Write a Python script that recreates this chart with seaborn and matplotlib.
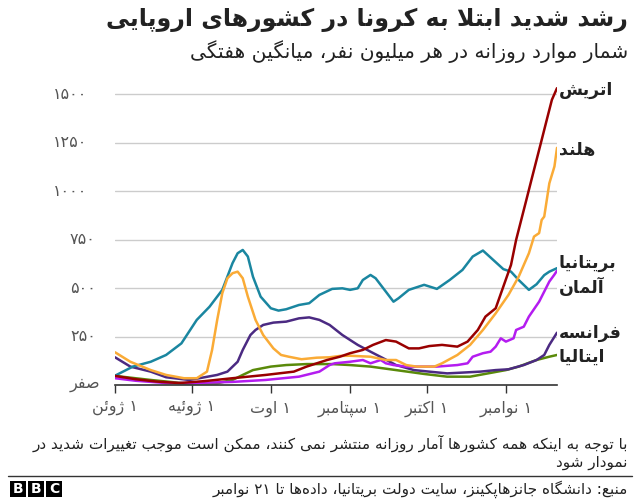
import re
import numpy as np
import pandas as pd
import matplotlib
matplotlib.use("Agg")
import matplotlib.pyplot as plt
from matplotlib.patches import Rectangle
from matplotlib.lines import Line2D
import matplotlib.transforms as mtrans
import seaborn as sns

# ------------------------------------------------------------------ data
start_date = "2020-06-01"
end_date = "2020-11-21"

austria_days = [0, 8, 16, 25, 35, 46, 59, 70, 75, 83, 88, 92, 97, 101, 106, 110, 115, 119, 123, 128,
                134, 138, 142, 145, 149, 152, 155, 157, 159, 161, 163, 165, 167, 169, 171, 173]
austria_vals = [47, 30, 18, 10, 20, 35, 52, 69, 95, 129, 146, 164, 181, 207, 232, 224, 189, 189, 201, 207,
                198, 224, 284, 353, 396, 508, 620, 749, 852, 955, 1059, 1162, 1265, 1369, 1472, 1532]

nl_days = [0, 6, 14, 20, 27, 32, 36, 38, 40, 42, 44, 46, 48, 50, 52, 55, 58, 62, 65, 68, 73, 79, 84, 88,
           92, 100, 106, 110, 114, 118, 125, 128, 134, 139, 144, 149, 154, 158, 162, 164, 166, 167, 168,
           170, 172, 173]
nl_vals = [169, 120, 77, 52, 35, 35, 69, 181, 336, 474, 551, 577, 585, 551, 456, 336, 258, 189, 155, 146,
           133, 141, 143, 150, 151, 146, 129, 129, 103, 95, 95, 112, 155, 207, 284, 370, 465, 559, 680,
           766, 784, 852, 869, 1041, 1128, 1224]

uk_days = [0, 7, 14, 20, 26, 32, 37, 42, 46, 48, 50, 52, 54, 57, 61, 64, 67, 72, 76, 80, 85, 89, 92, 95,
           97, 100, 102, 106, 109, 111, 115, 121, 126, 131, 136, 140, 144, 148, 152, 155, 158, 162, 165,
           168, 170, 173]
uk_vals = [48, 95, 120, 155, 215, 336, 404, 491, 629, 680, 697, 663, 559, 456, 396, 384, 391, 413, 422,
           465, 496, 499, 491, 499, 542, 568, 551, 482, 430, 448, 491, 517, 496, 542, 594, 663, 694, 646,
           598, 585, 542, 491, 520, 567, 585, 603]

germany_days = [0, 8, 20, 30, 46, 59, 72, 80, 84, 86, 92, 97, 100, 104, 106, 109, 114, 119, 126, 134,
                138, 140, 144, 147, 149, 151, 153, 156, 157, 160, 162, 166, 170, 172, 173]
germany_vals = [35, 22, 10, 10, 16, 26, 43, 69, 103, 112, 120, 129, 112, 129, 112, 103, 95, 95, 95, 103,
                112, 146, 164, 172, 198, 241, 224, 241, 284, 301, 353, 430, 534, 570, 590]

france_days = [0, 6, 14, 20, 29, 33, 40, 44, 48, 50, 53, 55, 58, 62, 67, 72, 76, 80, 84, 89, 95, 100,
               105, 110, 117, 123, 130, 136, 143, 149, 154, 160, 165, 168, 170, 173]
france_vals = [143, 95, 69, 40, 26, 35, 52, 69, 120, 181, 258, 284, 310, 322, 327, 344, 349, 336, 310,
               258, 207, 172, 138, 103, 77, 69, 60, 64, 69, 77, 81, 103, 129, 155, 207, 270]

italy_days = [0, 14, 27, 40, 46, 50, 54, 61, 67, 75, 85, 92, 100, 110, 121, 130, 139, 146, 153, 158,
              165, 170, 173]
italy_vals = [47, 26, 9, 9, 26, 52, 77, 95, 103, 108, 108, 103, 95, 77, 57, 43, 43, 60, 77, 95, 129, 146,
              155]

countries = ["ایتالیا", "فرانسه", "آلمان", "بریتانیا", "هلند", "اتریش"]
series_days = [italy_days, france_days, germany_days, uk_days, nl_days, austria_days]
series_vals = [italy_vals, france_vals, germany_vals, uk_vals, nl_vals, austria_vals]

y_ticks = [0, 250, 500, 750, 1000, 1250, 1500]
y_tick_labels = ["صفر", "۲۵۰", "۵۰۰", "۷۵۰", "۱۰۰۰", "۱۲۵۰", "۱۵۰۰"]
x_ticks = ["2020-06-01", "2020-07-01", "2020-08-01", "2020-09-01", "2020-10-01", "2020-11-01"]
x_tick_labels = ["۱ ژوئن", "۱ ژوئیه", "۱ اوت", "۱ سپتامبر", "۱ اکتبر", "۱ نوامبر"]

title = "رشد شدید ابتلا به کرونا در کشورهای اروپایی"
subtitle = "شمار موارد روزانه در هر میلیون نفر، میانگین هفتگی"
note_1 = "با توجه به اینکه همه کشورها آمار روزانه منتشر نمی کنند، ممکن است موجب تغییرات شدید در"
note_2 = "نمودار شود"
source = "منبع: دانشگاه جانزهاپکینز، سایت دولت بریتانیا، داده‌ها تا ۲۱ نوامبر"

# ------------------------------------------------------------------ styles
colors = {"اتریش": "#990000", "هلند": "#FAAB36", "بریتانیا": "#1A86A0",
          "آلمان": "#B41CF0", "فرانسه": "#4B2A82", "ایتالیا": "#5A8A0A"}
label_y = {"اتریش": 1524, "هلند": 1214, "بریتانیا": 630, "آلمان": 506, "فرانسه": 269, "ایتالیا": 145}

# ------------------------------------------------------------------ Persian shaping
_DUAL = {'ئ': 0xFE89, 'ب': 0xFE8F, 'ت': 0xFE95, 'ث': 0xFE99, 'ج': 0xFE9D, 'ح': 0xFEA1, 'خ': 0xFEA5,
         'س': 0xFEB1, 'ش': 0xFEB5, 'ص': 0xFEB9, 'ض': 0xFEBD, 'ط': 0xFEC1, 'ظ': 0xFEC5, 'ع': 0xFEC9,
         'غ': 0xFECD, 'ف': 0xFED1, 'ق': 0xFED5, 'ك': 0xFED9, 'ل': 0xFEDD, 'م': 0xFEE1, 'ن': 0xFEE5,
         'ه': 0xFEE9, 'ي': 0xFEF1, 'پ': 0xFB56, 'چ': 0xFB7A, 'ک': 0xFB8E, 'گ': 0xFB92, 'ی': 0xFBFC}
_RIGHT = {'آ': 0xFE81, 'أ': 0xFE83, 'ؤ': 0xFE85, 'إ': 0xFE87, 'ا': 0xFE8D, 'ة': 0xFE93, 'د': 0xFEA9,
          'ذ': 0xFEAB, 'ر': 0xFEAD, 'ز': 0xFEAF, 'و': 0xFEED, 'ى': 0xFEEF, 'ژ': 0xFB8A}
_LAMALEF = {'آ': 0xFEF5, 'أ': 0xFEF7, 'إ': 0xFEF9, 'ا': 0xFEFB}


def _shape(s):
    out = []
    n = len(s)
    i = 0
    while i < n:
        c = s[i]
        prev = s[i - 1] if i > 0 else ''
        pj = (prev in _DUAL) and (c in _DUAL or c in _RIGHT)
        if c == 'ل' and i + 1 < n and s[i + 1] in _LAMALEF:
            out.append(chr(_LAMALEF[s[i + 1]] + (1 if pj else 0)))
            i += 2
            continue
        nxt = s[i + 1] if i + 1 < n else ''
        if c in _DUAL:
            nj = nxt in _DUAL or nxt in _RIGHT
            off = 3 if (pj and nj) else 2 if nj else 1 if pj else 0
            out.append(chr(_DUAL[c] + off))
        elif c in _RIGHT:
            out.append(chr(_RIGHT[c] + (1 if pj else 0)))
        elif c == '\u200c':
            pass
        else:
            out.append(c)
        i += 1
    return ''.join(out)


def fa(s):
    rev = _shape(s)[::-1]
    return re.sub(r'[0-9\u06F0-\u06F9\u0660-\u0669]+', lambda m: m.group(0)[::-1], rev)


# ------------------------------------------------------------------ frame
t0 = pd.Timestamp(start_date)
rows = []
for name, d, v in zip(countries, series_days, series_vals):
    for di, vi in zip(d, v):
        rows.append({"date": t0 + pd.Timedelta(days=di), "value": vi, "country": name})
df = pd.DataFrame(rows)

# ------------------------------------------------------------------ plot
sns.set_theme(style="white")
plt.rcParams['font.family'] = ['DejaVu Sans']

W, H = 640, 500
fig = plt.figure(figsize=(6.4, 5.0), dpi=100)
fig.patch.set_facecolor("white")


def fx(px):
    return px / W


def fy(py):
    return 1 - py / H


ax = fig.add_axes([fx(115), fy(385), (557 - 115) / W, (385 - 75) / H])
ax.set_facecolor("white")

sns.lineplot(data=df, x="date", y="value", hue="country", hue_order=countries,
             palette=colors, linewidth=1.8, legend=False, estimator=None, ax=ax)

ax.set_xlim(pd.Timestamp(start_date), pd.Timestamp(end_date))
ax.set_ylim(0, 1600)
ax.set_yticks(y_ticks[1:])
ax.set_yticklabels([])
ax.tick_params(axis='y', length=0)
ax.grid(axis='y', color='#cccccc', linewidth=1.0)
ax.set_axisbelow(True)

ax.set_xticks(pd.to_datetime(x_ticks))
ax.set_xticklabels([fa(s) for s in x_tick_labels], fontsize=11.5, color='#555555')
ax.tick_params(axis='x', length=6, width=1, color='#333333', pad=5, direction='out', bottom=True)
ax.set_xlabel("")
ax.set_ylabel("")
for sp in ["top", "right", "left"]:
    ax.spines[sp].set_visible(False)
ax.spines["bottom"].set_color('#333333')
ax.spines["bottom"].set_linewidth(1.2)

ytrans = mtrans.blended_transform_factory(fig.transFigure, ax.transData)
for val, lab in zip(y_ticks, y_tick_labels):
    xpos = 53 if len(lab) >= 4 else 70
    ax.text(fx(xpos), val, fa(lab), transform=ytrans, ha='left', va='center',
            fontsize=11.5, color='#555555')

for name in countries:
    ax.text(fx(559), label_y[name], fa(name), transform=ytrans, ha='left', va='center',
            fontsize=12.5, fontweight='bold', color='#222222')

# titles and footer
fig.text(fx(628), fy(20), fa(title), ha='right', va='center', fontsize=17,
         fontweight='bold', color='#222222')
fig.text(fx(628), fy(52), fa(subtitle), ha='right', va='center', fontsize=14.5, color='#222222')
fig.text(fx(628), fy(443), fa(note_1), ha='right', va='center', fontsize=11, color='#222222')
fig.text(fx(628), fy(463), fa(note_2), ha='right', va='center', fontsize=11, color='#222222')
fig.add_artist(Line2D([fx(8), fx(632)], [fy(476), fy(476)], color='#333333', linewidth=1.0,
                      transform=fig.transFigure))
fig.text(fx(628), fy(489), fa(source), ha='right', va='center', fontsize=11, color='#222222')

for k, letter in enumerate("BBC"):
    x0 = 10 + k * 18
    fig.add_artist(Rectangle((fx(x0), fy(497)), 16 / W, 16 / H, transform=fig.transFigure,
                             facecolor='black', edgecolor='none'))
    fig.text(fx(x0 + 8), fy(489), letter, ha='center', va='center', fontsize=10,
             fontweight='bold', color='white', family='DejaVu Sans')

fig.savefig("out.png", dpi=100, facecolor="white")
